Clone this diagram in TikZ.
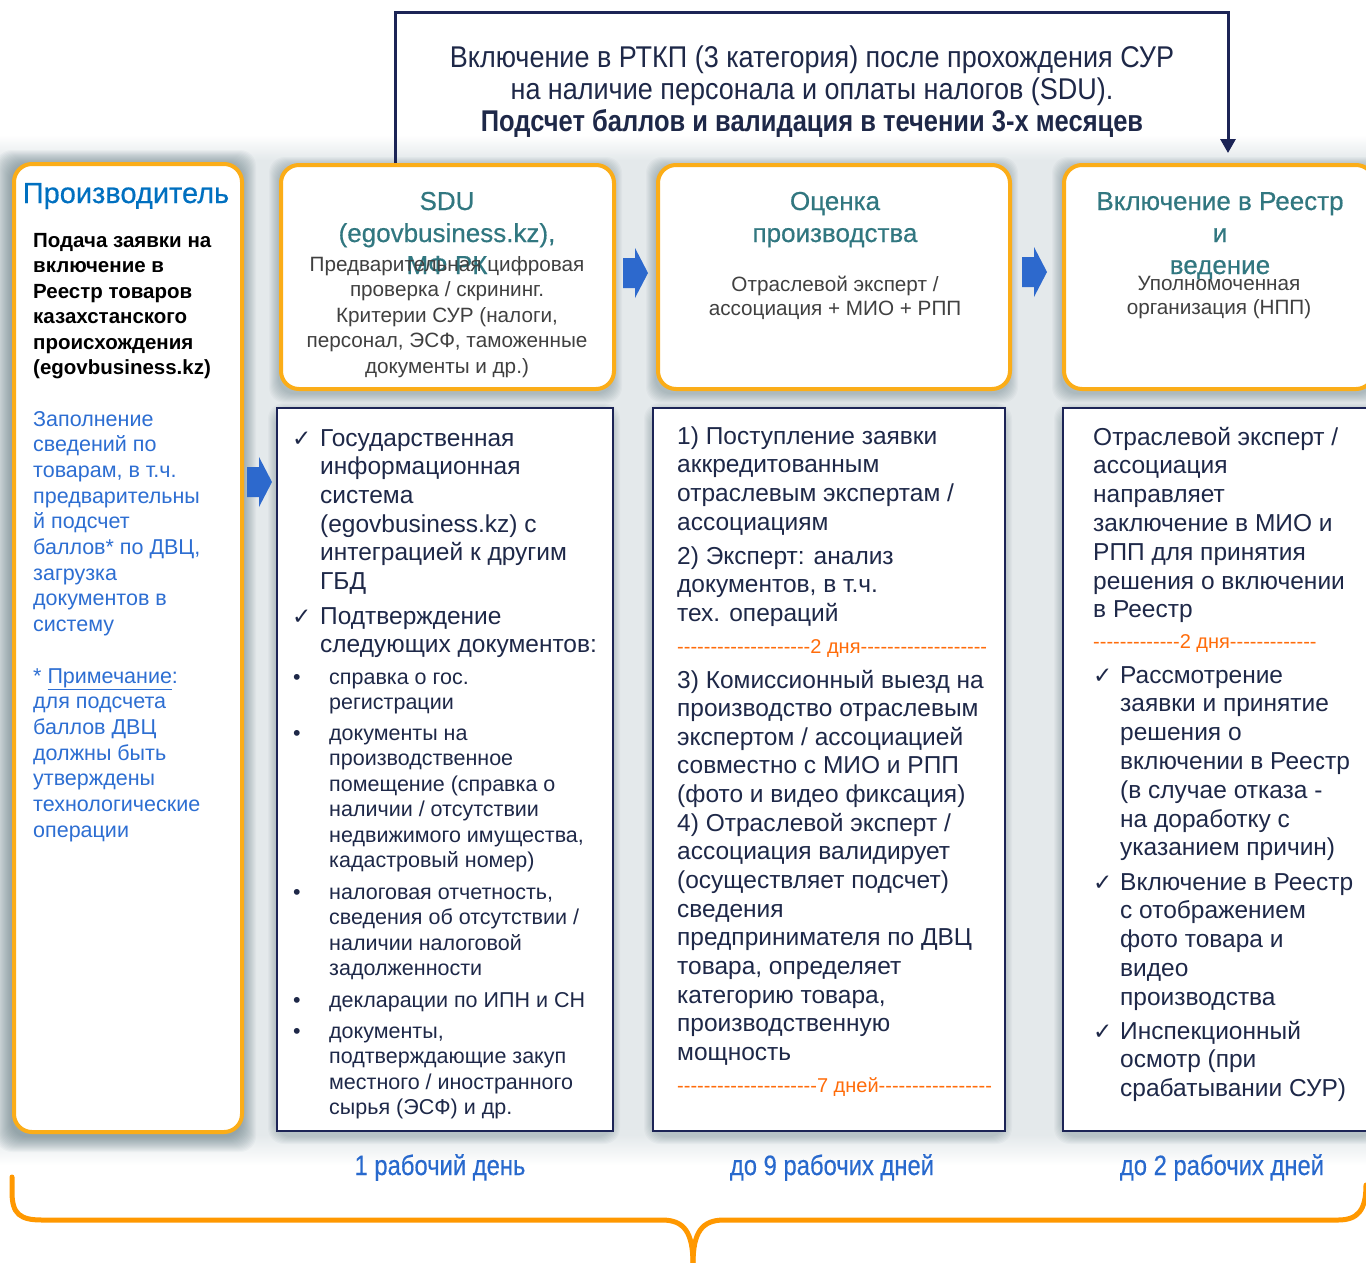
\documentclass[tikz,border=0pt]{standalone}
\usepackage{fontspec}
\setmainfont{Liberation Sans}
\newfontfamily\condfont[FakeStretch=0.9]{Liberation Sans}
\newfontfamily\condbfont[FakeStretch=0.85,FakeBold=0]{Liberation Sans Bold}
\newfontfamily\lblfont[FakeStretch=0.85,FakeBold=0.4]{Liberation Sans}
\newfontfamily\medfont[FakeBold=0.5]{Liberation Sans}
\newfontfamily\symfont{DejaVu Sans}
\usetikzlibrary{arrows.meta,calc}
\definecolor{bodyc}{RGB}{30,40,72}
\definecolor{grayc}{RGB}{64,64,64}
\definecolor{tealc}{RGB}{49,119,128}
\definecolor{prodblue}{RGB}{0,112,192}
\definecolor{bluetxt}{RGB}{45,110,210}
\definecolor{orangetxt}{RGB}{255,108,10}
\definecolor{orangeb}{RGB}{251,173,24}
\definecolor{navyb}{RGB}{28,36,86}
\definecolor{arrblue}{RGB}{45,105,205}
\definecolor{bracec}{RGB}{255,152,0}
\definecolor{labelc}{RGB}{40,105,205}
\definecolor{bgc}{RGB}{228,233,235}
\definecolor{shadowc}{RGB}{60,90,100}
\newcommand\hyph[1]{\foreach\k in {1,...,#1}{-\kern0pt}}
\newcommand\softshadow[5]{\foreach \s in {1,...,#5}{\fill[shadowc,opacity=0.035,rounded corners=16pt] ({#1-\s},{#2-\s+4}) rectangle ({#3+\s},{#4+\s+6});}}
\newcommand\blockarrow[2]{\fill[arrblue] (#1,#2-15) -- (#1+12,#2-15) -- (#1+12,#2-25) -- (#1+25,#2) -- (#1+12,#2+25) -- (#1+12,#2+15) -- (#1,#2+15) -- cycle;}
\begin{document}
\begin{tikzpicture}[x=1pt,y=-1pt,
  hdrbox/.style={draw=orangeb, line width=4pt, rounded corners=18pt, fill=white, anchor=north west, inner sep=0pt},
  cbox/.style={draw=navyb, line width=2pt, fill=white, anchor=north west, inner sep=0pt},
  conn/.style={draw=navyb, line width=3pt, -{Triangle[width=15pt,length=14pt]}},
  tl/.style={anchor=base west, inner sep=0pt},
  tc/.style={anchor=base, inner sep=0pt},
  body/.style={font=\fontsize{24.5}{28.7}\selectfont, text=bodyc},
  small/.style={font=\fontsize{21.5}{25.5}\selectfont, text=bodyc},
  chk/.style={font=\symfont\fontsize{23}{24}\selectfont, text=bodyc},
  htitle/.style={font=\medfont\fontsize{26}{32}\selectfont, text=tealc},
  hgray/.style={font=\fontsize{20.7}{25.5}\selectfont, text=grayc},
  otxt/.style={font=\fontsize{20}{24}\selectfont, text=orangetxt},
  lbl/.style={font=\lblfont\fontsize{28}{32}\selectfont, text=labelc},
  brace/.style={draw=bracec, line width=5pt, line cap=round}
]
\useasboundingbox (0,0) rectangle (1366,1262);
% background
\fill[bgc] (0,160) rectangle (1366,1135);
\shade[top color=white,bottom color=bgc] (0,135) rectangle (1366,160);
\shade[top color=bgc,bottom color=white] (0,1135) rectangle (1366,1165);
% shadows
\softshadow{12}{162}{240}{1130}{16}
\softshadow{279}{163}{612}{387}{10}
\softshadow{656}{163}{1008}{387}{10}
\softshadow{1062}{163}{1372}{387}{10}
\softshadow{276}{407}{612}{1130}{8}
\softshadow{652}{407}{1004}{1130}{8}
\softshadow{1062}{407}{1374}{1130}{8}
% boxes
\node[hdrbox, minimum width=228pt, minimum height=968pt] (prod) at (12,162) {};
\node[hdrbox, minimum width=333pt, minimum height=224pt] (sdu) at (279,163) {};
\node[hdrbox, minimum width=352pt, minimum height=224pt] (ocen) at (656,163) {};
\node[hdrbox, minimum width=310pt, minimum height=224pt] (vkl) at (1062,163) {};
\node[cbox, minimum width=336pt, minimum height=723pt] (boxA) at (276,407) {};
\node[cbox, minimum width=352pt, minimum height=723pt] (boxB) at (652,407) {};
\node[cbox, minimum width=312pt, minimum height=723pt] (boxC) at (1062,407) {};
% top connector and text
\draw[conn] ($(sdu.north west)+(116,0)$) |- ($(vkl.north west)+(166,-151)$) -- ($(vkl.north west)+(166,-10)$);
\node[tc, font=\condfont\fontsize{30}{32}\selectfont, text=bodyc] (toptxt) at (812,67) {\parbox[t]{900pt}{\centering Включение в РТКП (3 категория) после прохождения СУР\\ на наличие персонала и оплаты налогов (SDU).\\ {\condbfont Подсчет баллов и валидация в течении 3-х месяцев}}};
% producer
\node[tc, font=\medfont\fontsize{29}{32}\selectfont, text=prodblue] (prodt) at (126,203) {Производитель};
\node[tl, font=\bfseries\fontsize{20.5}{25.5}\selectfont, text=black] (prodb) at (33,247) {\parbox[t]{220pt}{\raggedright Подача заявки на\\ включение в\\ Реестр товаров\\ казахстанского\\ происхождения\\ (egovbusiness.kz)}};
\node[tl, font=\fontsize{21.5}{25.7}\selectfont, text=bluetxt] (prodn) at (33,426) {\parbox[t]{220pt}{\raggedright Заполнение\\ сведений по\\ товарам, в т.ч.\\ предварительны\\ й подсчет\\ баллов* по ДВЦ,\\ загрузка\\ документов в\\ систему\\[25.7pt] * \underline{Примечание}:\\ для подсчета\\ баллов ДВЦ\\ должны быть\\ утверждены\\ технологические\\ операции}};
% SDU header
\node[tc, htitle] (sdut) at (447,210) {\parbox[t]{330pt}{\centering SDU\\ (egovbusiness.kz),\\ МФ РК}};
\node[tc, hgray] (sdug) at (447,271) {\parbox[t]{330pt}{\centering Предварительная цифровая\\ проверка / скрининг.\\ Критерии СУР (налоги,\\ персонал, ЭСФ, таможенные\\ документы и др.)}};
% Ocenka header
\node[tc, htitle] (ocent) at (835,210) {\parbox[t]{340pt}{\centering Оценка\\ производства}};
\node[tc, hgray, font=\fontsize{20.7}{24}\selectfont] (ocg) at (835,291) {\parbox[t]{340pt}{\centering Отраслевой эксперт /\\ ассоциация + МИО + РПП}};
% Vkl header
\node[tc, htitle] (vklt) at (1220,210) {\parbox[t]{300pt}{\centering Включение в Реестр\\ и\\ ведение}};
\node[tc, hgray, font=\fontsize{20.7}{24}\selectfont] (vklg) at (1219,290) {\parbox[t]{300pt}{\centering Уполномоченная\\ организация (НПП)}};
% block arrows
\blockarrow{623}{273}
\blockarrow{1022}{272}
\blockarrow{247}{482}
% Box A
\node[tl, chk] (ca1) at (292,446) {✓};
\node[tl, body] (a1) at (320,446) {\parbox[t]{290pt}{\raggedright Государственная\\ информационная\\ система\\ (egovbusiness.kz) с\\ интеграцией к другим\\ ГБД}};
\node[tl, chk] (ca2) at (292,624) {✓};
\node[tl, body] (a2) at (320,624) {\parbox[t]{290pt}{\raggedright Подтверждение\\ следующих документов:}};
\node[tl, small] (ba1) at (293,684) {•};
\node[tl, small] (a3) at (329,684) {\parbox[t]{280pt}{\raggedright справка о гос.\\ регистрации}};
\node[tl, small] (ba2) at (293,740) {•};
\node[tl, small] (a4) at (329,740) {\parbox[t]{280pt}{\raggedright документы на\\ производственное\\ помещение (справка о\\ наличии / отсутствии\\ недвижимого имущества,\\ кадастровый номер)}};
\node[tl, small] (ba3) at (293,899) {•};
\node[tl, small] (a5) at (329,899) {\parbox[t]{280pt}{\raggedright налоговая отчетность,\\ сведения об отсутствии /\\ наличии налоговой\\ задолженности}};
\node[tl, small] (ba4) at (293,1007) {•};
\node[tl, small] (a6) at (329,1007) {декларации по ИПН и СН};
\node[tl, small] (ba5) at (293,1038) {•};
\node[tl, small] (a7) at (329,1038) {\parbox[t]{280pt}{\raggedright документы,\\ подтверждающие закуп\\ местного / иностранного\\ сырья (ЭСФ) и др.}};
% Box B
\node[tl, body] (b1) at (677,444) {\parbox[t]{320pt}{\raggedright 1) Поступление заявки\\ аккредитованным\\ отраслевым экспертам /\\ ассоциациям}};
\node[tl, body] (b2) at (677,564) {\parbox[t]{320pt}{\raggedright 2) Эксперт: анализ\\ документов, в т.ч.\\ тех. операций}};
\node[tl, otxt] (bo1) at (677,653) {\hyph{20}2 дня\hyph{19}};
\node[tl, body, font=\fontsize{24.5}{28.65}\selectfont] (b3) at (677,688) {\parbox[t]{330pt}{\raggedright 3) Комиссионный выезд на\\ производство отраслевым\\ экспертом / ассоциацией\\ совместно с МИО и РПП\\ (фото и видео фиксация)\\ 4) Отраслевой эксперт /\\ ассоциация валидирует\\ (осуществляет подсчет)\\ сведения\\ предпринимателя по ДВЦ\\ товара, определяет\\ категорию товара,\\ производственную\\ мощность}};
\node[tl, otxt] (bo2) at (677,1092) {\hyph{21}7 дней\hyph{17}};
% Box C
\node[tl, body, font=\fontsize{24.5}{28.8}\selectfont] (c1) at (1093,445) {\parbox[t]{280pt}{\raggedright Отраслевой эксперт /\\ ассоциация\\ направляет\\ заключение в МИО и\\ РПП для принятия\\ решения о включении\\ в Реестр}};
\node[tl, otxt] (co1) at (1093,648) {\hyph{13}2 дня\hyph{13}};
\node[tl, chk] (cc1) at (1093,683) {✓};
\node[tl, body, font=\fontsize{24.5}{28.8}\selectfont] (c2) at (1120,683) {\parbox[t]{260pt}{\raggedright Рассмотрение\\ заявки и принятие\\ решения о\\ включении в Реестр\\ (в случае отказа -\\ на доработку с\\ указанием причин)}};
\node[tl, chk] (cc2) at (1093,890) {✓};
\node[tl, body, font=\fontsize{24.5}{28.8}\selectfont] (c3) at (1120,890) {\parbox[t]{260pt}{\raggedright Включение в Реестр\\ с отображением\\ фото товара и\\ видео\\ производства}};
\node[tl, chk] (cc3) at (1093,1039) {✓};
\node[tl, body, font=\fontsize{24.5}{28.8}\selectfont] (c4) at (1120,1039) {\parbox[t]{260pt}{\raggedright Инспекционный\\ осмотр (при\\ срабатывании СУР)}};
% bottom labels
\node[tc, lbl] (l1) at (440,1175) {1 рабочий день};
\node[tc, lbl] (l2) at (832,1175) {до 9 рабочих дней};
\node[tc, lbl] (l3) at (1222,1175) {до 2 рабочих дней};
% brace
\coordinate (brL) at (12,1177);
\coordinate (brTip) at (693,1264);
\coordinate (brR) at (1366,1185);
\draw[brace] (brL) -- (12,1192) .. controls (12,1214) and (20,1220) .. (42,1220) -- (662,1220) .. controls (684,1220) and (693,1232) .. (brTip);
\draw[brace] (brTip) .. controls (693,1232) and (702,1220) .. (724,1220) -- (1338,1220) .. controls (1358,1220) and (1366,1210) .. (brR);
\end{tikzpicture}
\end{document}
